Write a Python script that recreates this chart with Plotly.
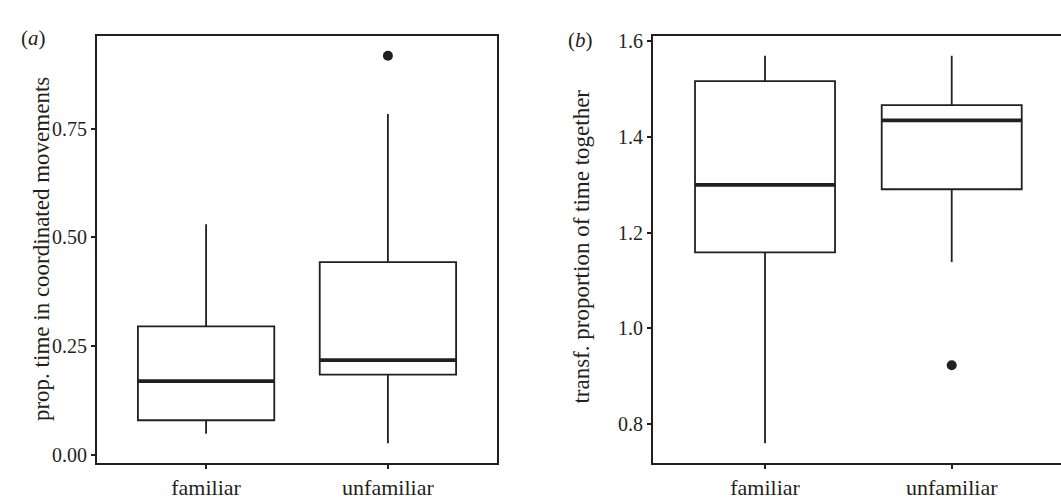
import plotly.graph_objects as go

# ---- data ----
categories = ["familiar", "unfamiliar"]

# panel (a): prop. time in coordinated movements
a_lower = [0.048, 0.026]
a_q1 = [0.079, 0.184]
a_median = [0.169, 0.2175]
a_q3 = [0.295, 0.443]
a_upper = [0.530, 0.784]
a_outlier_cat = [2]
a_outlier_val = [0.918]
a_ticks = [0.00, 0.25, 0.50, 0.75]
a_ticklabels = ["0.00", "0.25", "0.50", "0.75"]

# panel (b): transf. proportion of time together
b_lower = [0.760, 1.139]
b_q1 = [1.159, 1.291]
b_median = [1.300, 1.435]
b_q3 = [1.517, 1.467]
b_upper = [1.570, 1.570]
b_outlier_cat = [2]
b_outlier_val = [0.923]
b_ticks = [0.8, 1.0, 1.2, 1.4, 1.6]
b_ticklabels = ["0.8", "1.0", "1.2", "1.4", "1.6"]

W, H = 1061, 500
INK = "#231f20"
FONT = "Liberation Serif, Times New Roman, DejaVu Serif, serif"
BOXW = 0.75
positions = [1, 2]
LW = 1.8

fig = go.Figure()


def add_panel(xa, ya, lower, q1, med, q3, upper, out_x, out_y):
    for i, p in enumerate(positions):
        fig.add_trace(go.Box(
            x=[p], q1=[q1[i]], median=[med[i]], q3=[q3[i]],
            lowerfence=[lower[i]], upperfence=[upper[i]],
            width=BOXW, whiskerwidth=0,
            line=dict(color=INK, width=LW),
            fillcolor="white", boxpoints=False,
            xaxis=xa, yaxis=ya, showlegend=False, hoverinfo="skip",
        ))
        # thick median line (ggplot style)
        fig.add_trace(go.Scatter(
            x=[p - BOXW / 2, p + BOXW / 2], y=[med[i], med[i]],
            mode="lines", line=dict(color=INK, width=3.8),
            xaxis=xa, yaxis=ya, showlegend=False, hoverinfo="skip",
        ))
    fig.add_trace(go.Scatter(
        x=out_x, y=out_y, mode="markers",
        marker=dict(color=INK, size=10),
        xaxis=xa, yaxis=ya, showlegend=False, hoverinfo="skip",
    ))


add_panel("x", "y", a_lower, a_q1, a_median, a_q3, a_upper, a_outlier_cat, a_outlier_val)
add_panel("x2", "y2", b_lower, b_q1, b_median, b_q3, b_upper, b_outlier_cat, b_outlier_val)

ydom = [(H - 465) / H, (H - 31) / H]
tickfont = dict(family=FONT, size=20, color=INK)
catfont = dict(family=FONT, size=22, color=INK)

common_x = dict(
    tickmode="array", tickvals=positions, ticktext=categories,
    showline=True, linecolor=INK, linewidth=LW, mirror=True,
    ticks="outside", ticklen=4, tickwidth=LW, tickcolor=INK,
    showgrid=False, zeroline=False, tickfont=catfont,
)
common_y = dict(
    showline=True, linecolor=INK, linewidth=LW,
    ticks="outside", ticklen=4, tickwidth=LW, tickcolor=INK,
    showgrid=False, zeroline=False, tickfont=tickfont, domain=ydom,
)

fig.update_layout(
    width=W, height=H,
    margin=dict(l=0, r=0, t=0, b=0),
    paper_bgcolor="white", plot_bgcolor="white",
    boxmode="overlay",
    xaxis=dict(**common_x, domain=[97 / W, 497 / W], range=[0.4, 2.6], anchor="y"),
    yaxis=dict(**common_y, mirror=True, range=[-0.0186, 0.9626], anchor="x",
               tickmode="array", tickvals=a_ticks, ticktext=a_ticklabels),
    xaxis2=dict(**common_x, domain=[653 / W, 1.0], range=[0.4, 0.4 + 408 / 186.7],
                anchor="y2"),
    yaxis2=dict(**common_y, mirror=False, range=[0.7195, 1.6105], anchor="x2",
                tickmode="array", tickvals=b_ticks, ticktext=b_ticklabels),
    annotations=[
        dict(text="prop. time in coordinated movements", textangle=-90,
             x=27 / W, y=(H - 248) / H, xref="paper", yref="paper",
             showarrow=False, font=dict(family=FONT, size=23, color=INK)),
        dict(text="transf. proportion of time together", textangle=-90,
             x=582 / W, y=(H - 245) / H, xref="paper", yref="paper",
             showarrow=False, font=dict(family=FONT, size=23, color=INK)),
        dict(text="(<i>a</i>)", x=19 / W, y=(H - 18) / H, xref="paper", yref="paper",
             showarrow=False, font=dict(family=FONT, size=21, color=INK)),
        dict(text="(<i>b</i>)", x=580 / W, y=(H - 20) / H, xref="paper", yref="paper",
             showarrow=False, font=dict(family=FONT, size=21, color=INK)),
    ],
)

fig.write_html("out.html", config={"displayModeBar": False})

# remove default page margin so the figure sits at the window's top-left
with open("out.html", "r", encoding="utf-8") as f:
    html = f.read()
html = html.replace("<body>", '<body style="margin:0;overflow:hidden">', 1)
with open("out.html", "w", encoding="utf-8") as f:
    f.write(html)
